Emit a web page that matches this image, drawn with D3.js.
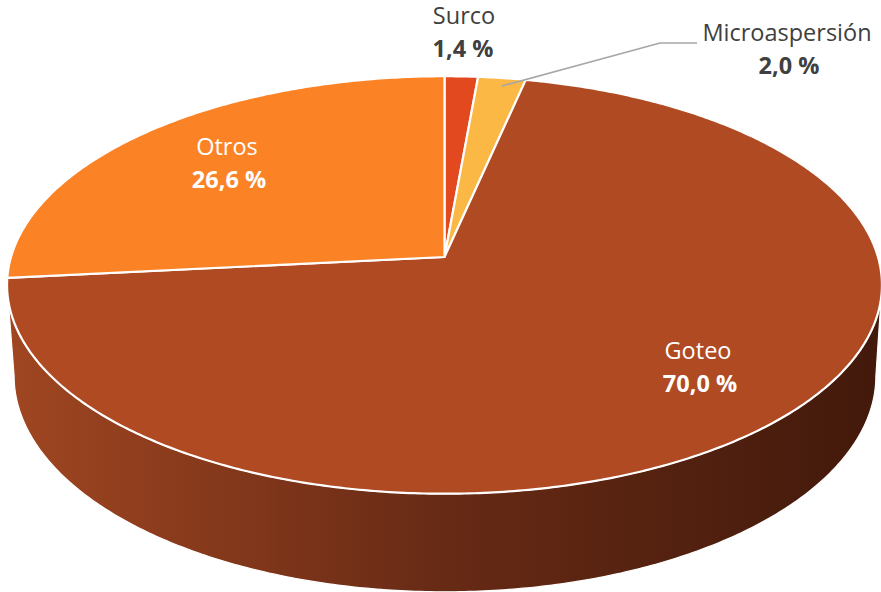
<!DOCTYPE html>
<html>
<head>
<meta charset="utf-8">
<script src="https://cdn.jsdelivr.net/npm/d3@7"></script>
<style>
  html, body { margin: 0; padding: 0; background: #fff; }
  svg { display: block; }
  text { font-family: "Open Sans", sans-serif; font-size: 23.5px; text-anchor: middle; }
</style>
</head>
<body>
<svg id="chart" width="881" height="592"></svg>
<script>
const categories = ["Surco", "Microaspersión", "Goteo", "Otros"];
const values = [1.4, 2.0, 70.0, 26.6];
const valueLabels = ["1,4 %", "2,0 %", "70,0 %", "26,6 %"];
const colors = ["#e3491f", "#fbb845", "#b04a23", "#fc8226"];

const svg = d3.select("#chart");

// perspective of the disc, p is how much the near side grows
const p = 0.134;
const xTop = d3.scaleLinear().domain([-1, 1]).range([444.5 - 433.5, 444.5 + 433.5]);
const yTop = d3.scaleLinear().domain([-1, 1]).range([257 - 205, 257 + 205]);
const xBottom = d3.scaleLinear().domain([-1, 1]).range([445 - 427, 445 + 427]);
const yBottom = d3.scaleLinear().domain([-1, 1]).range([347 - 212, 347 + 212]);

const project = (a, xs, ys) => {
    const u = Math.sin(a);
    const v = -Math.cos(a);
    const w = 1 - p * v;
    return [xs(u / w), ys(v / w)];
};

const arcPoints = (a0, a1, xs, ys) => {
    const n = Math.max(2, Math.ceil(Math.abs(a1 - a0) / 0.01));
    return d3.range(n + 1).map(i => project(a0 + (a1 - a0) * i / n, xs, ys));
};

const line = d3.line();

const pie = d3.pie().sort(null).value(d => d.value);
const slices = pie(categories.map((c, i) => ({ name: c, value: values[i], color: colors[i], label: valueLabels[i] })));

// side wall, only the front part of the disc can be seen
const defs = svg.append("defs");
const grad = defs.append("linearGradient")
    .attr("id", "wall")
    .attr("gradientUnits", "userSpaceOnUse")
    .attr("x1", 8).attr("x2", 881).attr("y1", 0).attr("y2", 0);
grad.append("stop").attr("offset", "0%").attr("stop-color", "#a04621");
grad.append("stop").attr("offset", "50%").attr("stop-color", "#672a15");
grad.append("stop").attr("offset", "100%").attr("stop-color", "#42190b");

const frontStart = Math.acos(-p);
const frontEnd = 2 * Math.PI - frontStart;
const wallPoints = arcPoints(frontStart, frontEnd, xTop, yTop)
    .concat(arcPoints(frontEnd, frontStart, xBottom, yBottom));

svg.append("path")
    .attr("d", line(wallPoints) + "Z")
    .attr("fill", "url(#wall)")
    .attr("stroke", "#fff")
    .attr("stroke-width", 1.2)
    .attr("stroke-linejoin", "round");

// top of the disc
const apex = [xTop(0), yTop(0)];
svg.selectAll("path.slice")
    .data(slices)
    .enter()
    .append("path")
    .attr("class", "slice")
    .attr("d", d => line([apex].concat(arcPoints(d.startAngle, d.endAngle, xTop, yTop))) + "Z")
    .attr("fill", d => d.data.color)
    .attr("stroke", "#fff")
    .attr("stroke-width", 2.2)
    .attr("stroke-linejoin", "round");

// leader line of Microaspersión
svg.append("polyline")
    .attr("points", "502,86 660,43 697,43")
    .attr("fill", "none")
    .attr("stroke", "#a6a6a6")
    .attr("stroke-width", 1.5);

const labelPos = {
    "Surco": { x: 464, y: 24, color: "#404040" },
    "Microaspersión": { x: 787, y: 41, color: "#404040" },
    "Goteo": { x: 698, y: 359, color: "#fff" },
    "Otros": { x: 227, y: 155, color: "#fff" }
};

const labels = svg.selectAll("g.label")
    .data(slices)
    .enter()
    .append("g")
    .attr("class", "label")
    .attr("transform", d => `translate(${labelPos[d.data.name].x}, ${labelPos[d.data.name].y})`)
    .attr("fill", d => labelPos[d.data.name].color);

labels.append("text").text(d => d.data.name);
labels.append("text")
    .attr("x", d => d.data.name === "Surco" ? -1 : 2)
    .attr("y", 33)
    .attr("font-weight", "bold")
    .text(d => d.data.label);
</script>
</body>
</html>
